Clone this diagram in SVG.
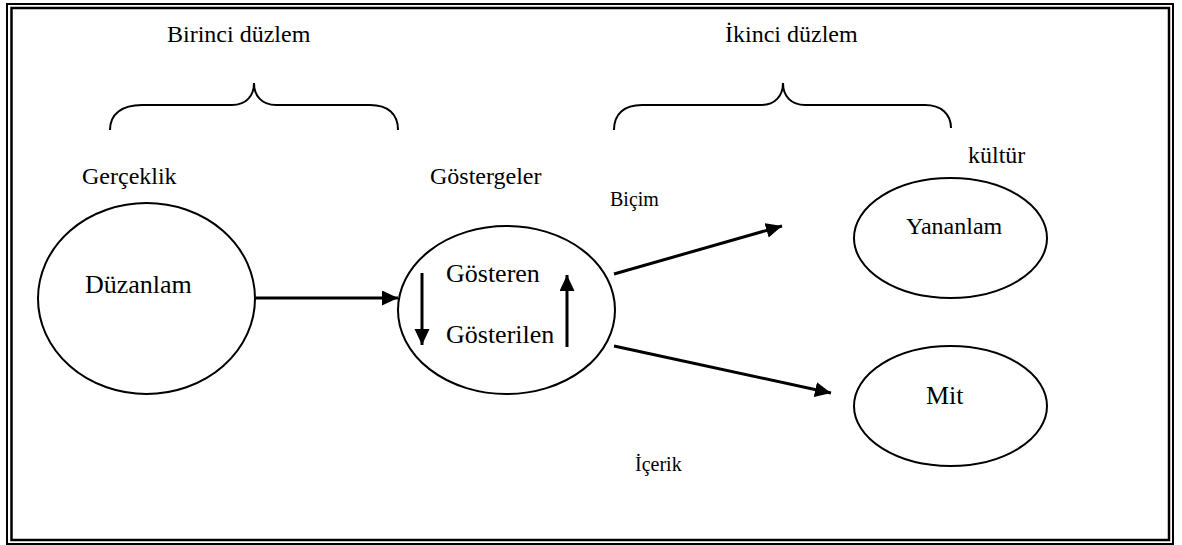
<svg xmlns="http://www.w3.org/2000/svg" width="1182" height="545" viewBox="0 0 1182 545">
<style>
text{font-family:'Liberation Serif','Times New Roman',serif;fill:#000}
.l{font-size:24px}.m{font-size:26px}.s{font-size:20px}
.node{fill:#fff;stroke:#000;stroke-width:2}
.conn{stroke:#000;stroke-width:3;fill:none}
.brace{stroke:#000;stroke-width:2;fill:none}
</style>
<defs>
<marker id="ah" markerUnits="userSpaceOnUse" markerWidth="17" markerHeight="16" refX="16" refY="7.5" orient="auto">
<path d="M0,0 L16,7.5 L0,15 z" fill="#000"/>
</marker>
</defs>
<rect x="0" y="0" width="1182" height="545" fill="#fff"/>
<g id="frame" fill="none" stroke="#000">
<rect x="7" y="4" width="1166" height="540" stroke-width="2"/>
<rect x="11.5" y="8" width="1157.5" height="532" stroke-width="2.5"/>
</g>
<g id="brace1">
<path class="brace" d="M110,130 C110,114 122,105 142,105 L232,105 C246,105 254,96 254,83 C254,96 262,105 276,105 L370,105 C388,105 398,114 398,130"/>
<text class="l" x="167" y="42">Birinci düzlem</text>
</g>
<g id="brace2">
<path class="brace" d="M614,130 C614,114 624,105 642,105 L761,105 C775,105 783,96 783,83 C783,96 791,105 805,105 L925,105 C941,105 951,114 951,128"/>
<text class="l" x="725" y="42">İkinci düzlem</text>
</g>
<g id="gerceklik">
<text class="l" x="82" y="184">Gerçeklik</text>
<ellipse class="node" cx="146.5" cy="298.5" rx="108.5" ry="95.5"/>
<text class="m" x="85" y="293">Düzanlam</text>
</g>
<g id="gostergeler">
<text class="l" x="430" y="184">Göstergeler</text>
<ellipse class="node" cx="506.5" cy="310" rx="108.5" ry="84"/>
<text class="m" x="446" y="282">Gösteren</text>
<text class="m" x="446" y="343">Gösterilen</text>
</g>
<g id="yananlam">
<text class="l" x="968" y="163">kültür</text>
<ellipse class="node" cx="950.5" cy="238" rx="96.5" ry="60"/>
<text class="l" x="906" y="234">Yananlam</text>
</g>
<g id="mit">
<ellipse class="node" cx="950.5" cy="406" rx="96.5" ry="60"/>
<text class="m" x="926" y="404">Mit</text>
</g>
<g id="labels">
<text class="s" x="610" y="206">Biçim</text>
<text class="s" x="635" y="471">İçerik</text>
</g>
<g id="connectors">
<line class="conn" x1="256" y1="298" x2="398" y2="298" marker-end="url(#ah)"/>
<line class="conn" x1="614" y1="274" x2="782" y2="226" marker-end="url(#ah)"/>
<line class="conn" x1="614" y1="346" x2="831" y2="393" marker-end="url(#ah)"/>
<line class="conn" x1="422" y1="273" x2="422" y2="345" marker-end="url(#ah)"/>
<line class="conn" x1="567" y1="347" x2="567" y2="275" marker-end="url(#ah)"/>
</g>
</svg>
